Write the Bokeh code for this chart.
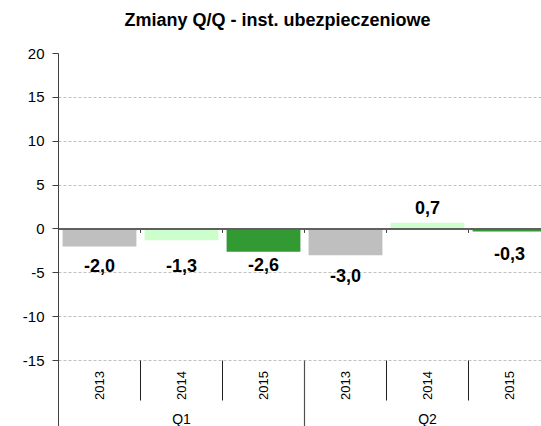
import math
from bokeh.plotting import figure
from bokeh.models import Range1d, FixedTicker, Span, ColumnDataSource, Title
from bokeh.embed import file_html
from bokeh.resources import INLINE

# ---- data ----
chart_title = "Zmiany Q/Q - inst. ubezpieczeniowe"
quarters = ["Q1", "Q2"]
years = ["2013", "2014", "2015"]
values = [-2.0, -1.3, -2.6, -3.0, 0.7, -0.3]
value_labels = ["-2,0", "-1,3", "-2,6", "-3,0", "0,7", "-0,3"]
y_ticks = [-15, -10, -5, 0, 5, 10, 15, 20]

# ---- style / layout ----
year_colors = {"2013": "#BFBFBF", "2014": "#CCFFCC", "2015": "#339933"}
label_dy_px = [19, 25, 13, 20, -15, 22]   # label offsets below (+) / above (-) bar end
FONT = "Liberation Sans"
W, H = 541, 426
LEFT, TOP = 58, 53
Y_MAX = 20
ppu = (360 - 53) / 35.0          # pixels per unit
cat_px = 82.0                     # pixels per category
y_bottom = Y_MAX - (H - TOP) / ppu
x_end = (W - LEFT) / cat_px

n_years = len(years)
cats_x = []
cat_year = []
for qi, q in enumerate(quarters):
    for yi, yr in enumerate(years):
        cats_x.append(qi * n_years + yi + 0.5)
        cat_year.append(yr)
n = len(cats_x)

p = figure(width=W, height=H, output_backend="svg", toolbar_location=None,
           x_range=Range1d(0, x_end), y_range=Range1d(y_bottom, Y_MAX),
           x_axis_location=None, min_border_left=LEFT, min_border_right=0,
           min_border_top=TOP, min_border_bottom=0)
p.outline_line_color = None
p.background_fill_color = "white"
p.border_fill_color = "white"

# title (plus an empty spacer panel between title and plot area)
p.title.text = chart_title
p.title.align = "left"
p.title.offset = 66
p.title.text_font = FONT
p.title.text_font_size = "18px"
p.title.text_font_style = "bold"
p.title.text_color = "#000000"
p.title.standoff = 10
p.add_layout(Title(text=" ", text_font_size="16px", standoff=0), "above")

# y axis
ya = p.yaxis[0]
ya.ticker = FixedTicker(ticks=y_ticks)
ya.major_label_overrides = {t: str(t) for t in y_ticks}
ya.axis_line_color = "#404040"
ya.major_tick_line_color = "#404040"
ya.major_tick_out = 6
ya.major_tick_in = 0
ya.minor_tick_line_color = None
ya.major_label_standoff = 8
ya.major_label_text_font = FONT
ya.major_label_text_font_size = "15px"
ya.major_label_text_color = "#000000"

p.xgrid.grid_line_color = None
p.ygrid.ticker = FixedTicker(ticks=y_ticks)
p.ygrid.grid_line_color = "#C0C0C0"
p.ygrid.grid_line_dash = "3 2"
p.ygrid.grid_line_width = 1

# bars
src = ColumnDataSource(dict(
    x=cats_x, top=values, color=[year_colors[y] for y in cat_year],
    label=value_labels,
    ly=[v - d / ppu for v, d in zip(values, label_dy_px)],
))
p.vbar(x="x", top="top", bottom=0, width=0.9, fill_color="color",
       line_color=None, source=src)

# zero line
p.add_layout(Span(location=0, dimension="width", line_color="#606060", line_width=2))

# small tick marks on zero line at category boundaries
bounds = list(range(1, n))
p.segment(x0=bounds, x1=bounds, y0=[0] * len(bounds), y1=[-4 / ppu] * len(bounds),
          line_color="#404040", line_width=1)

# value labels
p.text(x="x", y="ly", text="label", source=src, text_align="center",
       text_baseline="middle", text_font_size="18px", text_font_style="bold",
       text_color="#000000", text_font={"value": FONT})

# multi-level category axis
low = y_ticks[0]
inner = [b for b in bounds if b % n_years != 0]
outer = [b for b in bounds if b % n_years == 0]
p.segment(x0=inner, x1=inner, y0=[low] * len(inner), y1=[low - 40 / ppu] * len(inner),
          line_color="#202020", line_width=1)
p.segment(x0=outer, x1=outer, y0=[low] * len(outer), y1=[y_bottom] * len(outer),
          line_color="#505050", line_width=1.2)
p.text(x=cats_x, y=[low - 25 / ppu] * n, text=cat_year, angle=math.pi / 2,
       text_align="center", text_baseline="middle", text_font_size="13px",
       text_color="#000000", text_font={"value": FONT})
qx = [qi * n_years + n_years / 2.0 for qi in range(len(quarters))]
p.text(x=qx, y=[low - 58 / ppu] * len(quarters), text=quarters,
       text_align="center", text_baseline="middle", text_font_size="14px",
       text_color="#000000", text_font={"value": FONT})

open("out.html", "w").write(file_html(p, INLINE))
